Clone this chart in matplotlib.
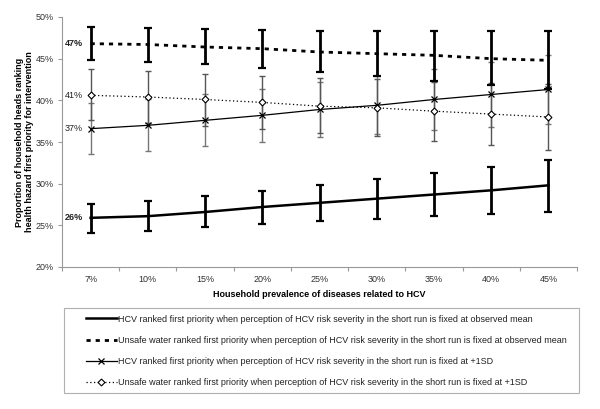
import matplotlib
matplotlib.use("Agg")
import matplotlib.pyplot as plt
import numpy as np
from matplotlib.lines import Line2D
from matplotlib.patches import Rectangle

plt.rcParams['font.family'] = ['Liberation Sans', 'DejaVu Sans']

categories = ["7%", "10%", "15%", "20%", "25%", "30%", "35%", "40%", "45%"]

hcv_mean = [25.9, 26.1, 26.6, 27.2, 27.7, 28.2, 28.7, 29.2, 29.8]
hcv_mean_lo = [24.1, 24.35, 24.8, 25.15, 25.55, 25.8, 26.15, 26.35, 26.6]
hcv_mean_hi = [27.6, 27.9, 28.5, 29.1, 29.8, 30.55, 31.3, 32.0, 32.8]

water_mean = [46.8, 46.7, 46.4, 46.2, 45.8, 45.6, 45.4, 45.0, 44.8]
water_mean_lo = [44.8, 44.6, 44.35, 43.9, 43.4, 42.9, 42.35, 41.8, 41.4]
water_mean_hi = [48.8, 48.7, 48.5, 48.4, 48.3, 48.3, 48.3, 48.3, 48.3]

hcv_sd = [36.6, 37.0, 37.6, 38.2, 38.9, 39.4, 40.1, 40.7, 41.3]
hcv_sd_lo = [33.6, 33.95, 34.55, 35.0, 35.55, 35.9, 36.4, 36.8, 37.2]
hcv_sd_hi = [39.7, 40.1, 40.7, 41.3, 42.2, 42.9, 43.8, 44.6, 45.4]

water_sd = [40.6, 40.4, 40.1, 39.75, 39.3, 39.1, 38.7, 38.35, 38.0]
water_sd_lo = [37.6, 37.3, 36.9, 36.6, 36.1, 35.7, 35.15, 34.6, 34.0]
water_sd_hi = [43.7, 43.55, 43.2, 42.9, 42.7, 42.55, 42.25, 42.1, 42.0]

start_labels = ["26%", "47%", "37%", "41%"]

legend_labels = [
    "HCV ranked first priority when perception of HCV risk severity in the short run is fixed at observed mean",
    "Unsafe water ranked first priority when perception of HCV risk severity in the short run is fixed at observed mean",
    "HCV ranked first priority when perception of HCV risk severity in the short run is fixed at +1SD",
    "Unsafe water ranked first priority when perception of HCV risk severity in the short run is fixed at +1SD",
]

fig = plt.figure(figsize=(6, 4.09), dpi=100)
ax = fig.add_axes([62/600, 1-267/409, (577-62)/600, (267-17)/409])

x = np.arange(len(categories))

def yerr(v, lo, hi):
    v = np.array(v); return [v - np.array(lo), np.array(hi) - v]

# thin series (gray error bars)
ax.errorbar(x, hcv_sd, yerr=yerr(hcv_sd, hcv_sd_lo, hcv_sd_hi), fmt='none',
            ecolor='#777777', elinewidth=1.0, capsize=2.5, capthick=1.0, zorder=2)
ax.errorbar(x, water_sd, yerr=yerr(water_sd, water_sd_lo, water_sd_hi), fmt='none',
            ecolor='#555555', elinewidth=1.0, capsize=2.5, capthick=1.0, zorder=2)
l3, = ax.plot(x, hcv_sd, color='black', lw=0.9, marker='x', ms=5, mew=0.9, zorder=4)
l4, = ax.plot(x, water_sd, color='black', lw=0.9, ls=(0, (1, 2)), marker='D', ms=3.5,
              mfc='white', mec='black', mew=0.8, zorder=4)

# thick series
ax.errorbar(x, water_mean, yerr=yerr(water_mean, water_mean_lo, water_mean_hi), fmt='none',
            ecolor='black', elinewidth=2.0, capsize=3, capthick=1.6, zorder=3)
ax.errorbar(x, hcv_mean, yerr=yerr(hcv_mean, hcv_mean_lo, hcv_mean_hi), fmt='none',
            ecolor='black', elinewidth=2.0, capsize=3, capthick=1.6, zorder=3)
l1, = ax.plot(x, hcv_mean, color='black', lw=1.8, zorder=5)
l2, = ax.plot(x, water_mean, color='black', lw=2.0, ls=(0, (1.5, 1.8)), zorder=5)

# start labels
series_first = [hcv_mean[0], water_mean[0], hcv_sd[0], water_sd[0]]
weights = ['bold', 'bold', 'normal', 'normal']
for lab, v, w in zip(start_labels, series_first, weights):
    ax.text(-0.135, v, lab, ha='right', va='center', fontsize=6.5, fontweight=w, color='#222222')

ax.set_xlim(-0.5, len(categories) - 0.5)
ax.set_ylim(20, 50)
ax.set_yticks(np.arange(20, 51, 5))
ax.set_yticklabels([f"{int(v)}%" for v in np.arange(20, 51, 5)])
ax.set_xticks(x)
ax.set_xticklabels(categories)
ax.set_xticks(np.arange(-0.5, len(categories), 1), minor=True)
ax.tick_params(axis='x', which='major', length=0, pad=6, labelsize=6.5, labelcolor='#333333')
ax.tick_params(axis='x', which='minor', length=3, color='#999999', width=0.8)
ax.tick_params(axis='y', length=3, color='#999999', width=0.8, labelsize=6.5, labelcolor='#333333', pad=3)
for s in ['top', 'right']:
    ax.spines[s].set_visible(False)
for s in ['left', 'bottom']:
    ax.spines[s].set_color('#999999')
    ax.spines[s].set_linewidth(0.8)

ax.set_xlabel("Household prevalence of diseases related to HCV", fontsize=6.5,
              fontweight='bold', labelpad=4)
ax.set_ylabel("Proportion of household heads ranking\nhealth hazard first priority for intervention",
              fontsize=6.5, fontweight='bold', labelpad=1, linespacing=1.1)

# legend frame
fig.patches.append(Rectangle((64/600, 1-393/409), (579-64)/600, (393-307.7)/409,
                             transform=fig.transFigure, fill=False, edgecolor='#b0b0b0', lw=0.8))

handles = [
    Line2D([], [], color='black', lw=1.8),
    Line2D([], [], color='black', lw=2.0, ls=(0, (1.5, 1.8))),
    Line2D([], [], color='black', lw=0.9, marker='x', ms=5, mew=0.9),
    Line2D([], [], color='black', lw=0.9, ls=(0, (1, 2)), marker='D', ms=3.5, mfc='white', mec='black', mew=0.8),
]
leg = fig.legend(handles, legend_labels, loc='upper left',
                 bbox_to_anchor=(86/600, 1-314.5/409),
                 fontsize=6.5, frameon=False,
                 handlelength=3.4, handletextpad=0.1, labelspacing=1.35, borderpad=0,
                 borderaxespad=0)
for t in leg.get_texts():
    t.set_color('#222222')

fig.savefig("out.png", dpi=100)
